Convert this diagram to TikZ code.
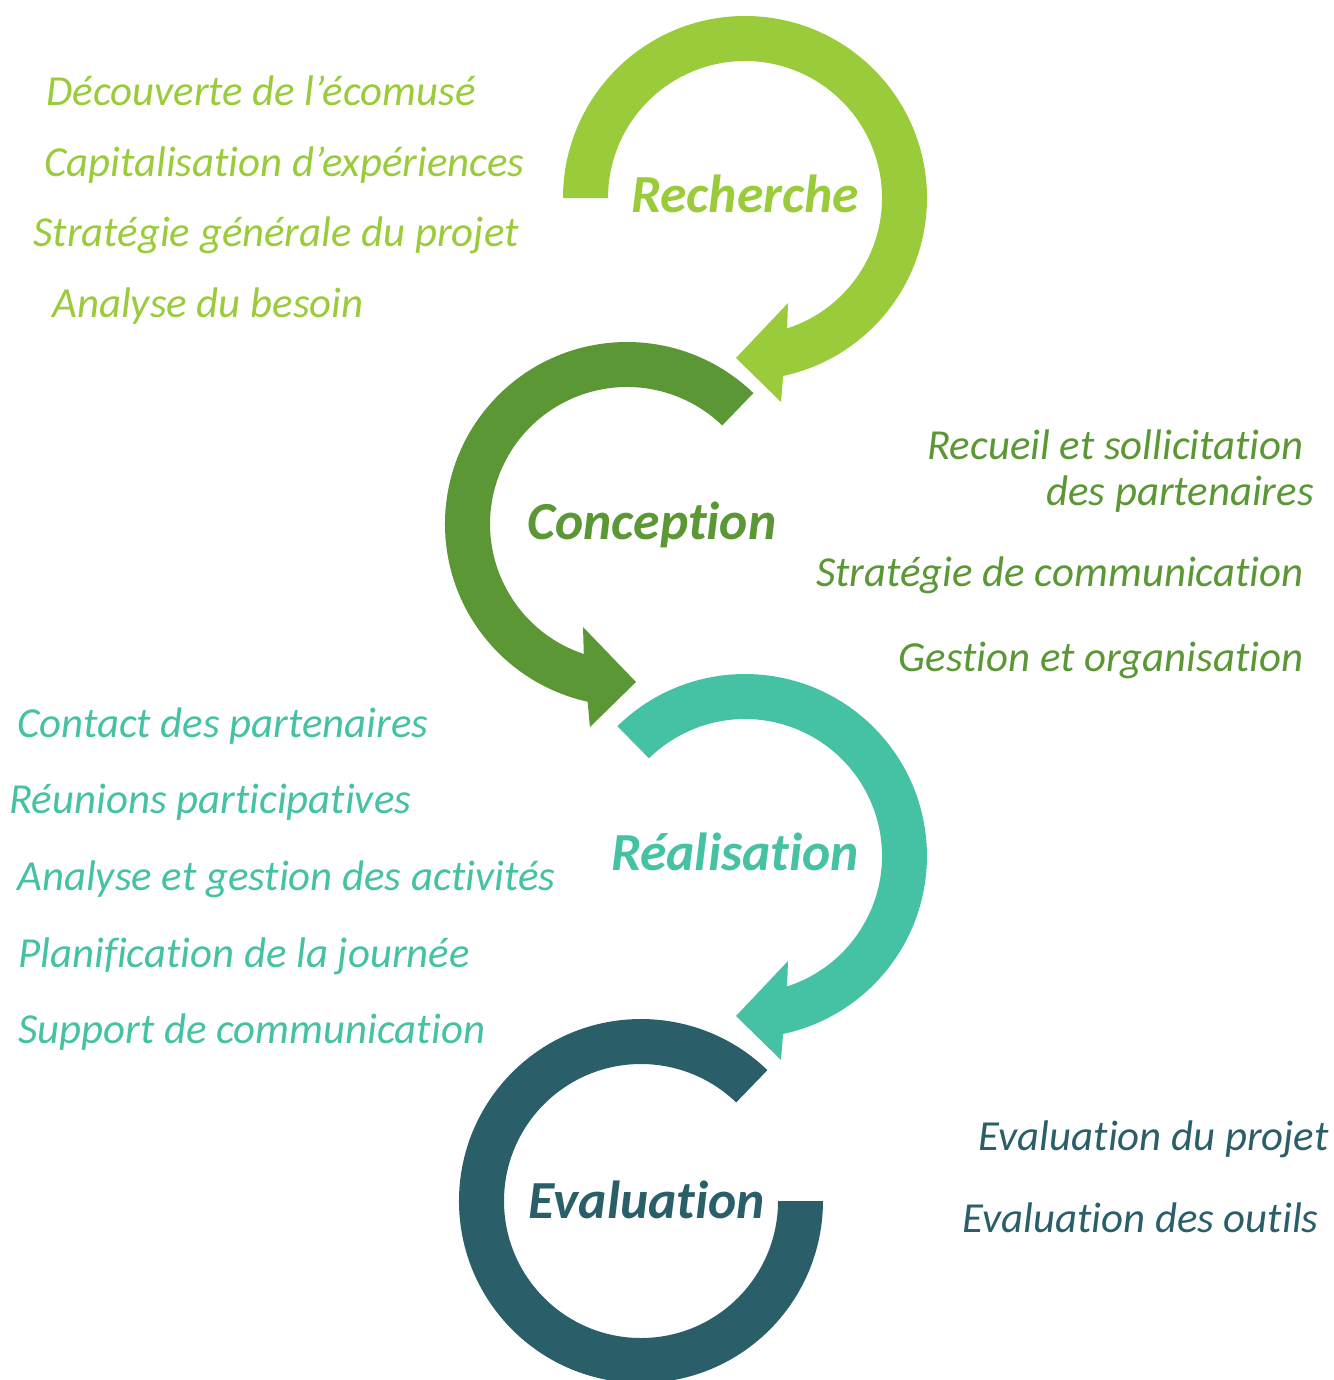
\documentclass[tikz,border=0pt]{standalone}
\usepackage{fontspec}
\setmainfont{Carlito}[Ligatures=NoCommon]
\definecolor{rech}{HTML}{9ACB3A}
\definecolor{conc}{HTML}{5B9734}
\definecolor{real}{HTML}{45C1A3}
\definecolor{evalc}{HTML}{2A5F6A}
\begin{document}
\begin{tikzpicture}[x=0.5pt,y=0.5pt,yscale=-1,
  item/.style={font=\itshape\fontsize{21.4}{25}\selectfont, inner sep=0pt},
  ttl/.style={font=\bfseries\itshape\fontsize{26.8}{30}\selectfont, inner sep=0pt, anchor=base}]
\useasboundingbox (0,0) rectangle (1333,1380);

% Recherche ring (center 745,198)
\fill[rech] (563,198) arc[start angle=180, end angle=437.9, radius=182]
  -- (781,402) -- (736,358) -- (788,303) -- (787.1,328.4)
  arc[start angle=432.1, end angle=180, radius=137] -- cycle;

% Conception ring (center 627,524)
\fill[conc] (753.4,393.1) arc[start angle=-46, end angle=-257.5, radius=182]
  -- (590,727) -- (636,682) -- (583,627) -- (583.8,654.0)
  arc[start angle=-251.6, end angle=-46, radius=137] -- cycle;

% Realisation ring (center 745,856)
\fill[real] (617.4,726.2) arc[start angle=-134.5, end angle=77.9, radius=182]
  -- (781,1060) -- (736,1016) -- (788,961) -- (787.1,986.4)
  arc[start angle=72.1, end angle=-134.5, radius=137] -- cycle;

% Evaluation ring (center 641,1201)
\fill[evalc] (767.4,1070.1) arc[start angle=-46, end angle=-360, radius=182]
  -- (778,1201) arc[start angle=-360, end angle=-46, radius=137] -- cycle;

% titles
\node[ttl, text=rech]  (t1) at (745,213)  {Recherche};
\node[ttl, text=conc]  (t2) at (652,539)  {Conception};
\node[ttl, text=real]  (t3) at (735,870)  {Réalisation};
\node[ttl, text=evalc] (t4) at (647,1218) {Evaluation};

% Recherche items
\begin{scope}[every node/.style={item, text=rech, anchor=base west}]
\node (r1) at (46,106) {Découverte de l’écomusé};
\node (r2) at (44,177) {Capitalisation d’expériences};
\node (r3) at (33,247) {Stratégie générale du projet};
\node (r4) at (52,317) {Analyse du besoin};
\end{scope}

% Conception items
\begin{scope}[every node/.style={item, text=conc, anchor=base east}]
\node (c1) at (1304,459) {Recueil et sollicitation};
\node (c2) at (1314,505) {des partenaires};
\node (c3) at (1304,586) {Stratégie de communication};
\node (c4) at (1304,671) {Gestion et organisation};
\end{scope}

% Realisation items
\begin{scope}[every node/.style={item, text=real, anchor=base west}]
\node (a1) at (17,737)  {Contact des partenaires};
\node (a2) at (9,813)   {Réunions participatives};
\node (a3) at (17,890)  {Analyse et gestion des activités};
\node (a4) at (18,967)  {Planification de la journée};
\node (a5) at (18,1043) {Support de communication};
\end{scope}

% Evaluation items
\begin{scope}[every node/.style={item, text=evalc, anchor=base east}]
\node (e1) at (1329,1150) {Evaluation du projet};
\node (e2) at (1319,1232) {Evaluation des outils};
\end{scope}
\end{tikzpicture}
\end{document}
